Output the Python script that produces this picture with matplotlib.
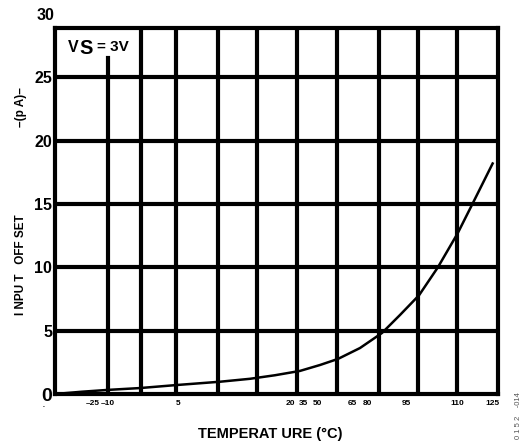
import matplotlib
matplotlib.use("Agg")
import matplotlib.pyplot as plt

plt.rcParams['font.family'] = ['Liberation Sans', 'DejaVu Sans']
plt.rcParams['font.weight'] = 'bold'

# curve (x in the chart's own linear scale, y in pA)
temp = [-40, -30, -20.6, -8.3, 5.4, 21.5, 32.6, 41.9, 51.2, 58.7, 65.4, 73.6,
        81.8, 88.5, 95.6, 102.6, 110, 115.7, 123]
offset = [0.0, 0.18, 0.32, 0.47, 0.71, 0.97, 1.2, 1.48, 1.82, 2.29, 2.77, 3.63,
          4.82, 6.24, 7.8, 10.0, 12.7, 15.1, 18.2]

# vertical grid positions and the (oddly placed) tick labels of the original
vgrid = [-20.3, -8, 5, 20.8, 35.4, 50, 65, 80.6, 95.2, 109.8]
xtick_pos = [-25.8, -20.3, 5.8, 47.5, 52.4, 57.6, 70.6, 76.2, 91, 110, 123]
xtick_lab = ['\u201325', '\u201310', '5', '20', '35', '50', '65', '80', '95', '110', '125']
ytick_pos = [0, 5, 10, 15, 20, 25]
ytick_lab = ['0', '5', '10', '15', '20', '25']

fig = plt.figure(figsize=(5.29, 4.44), dpi=100)
ax = fig.add_axes([55 / 529, 1 - 394 / 444, 443 / 529, 366 / 444])
ax.set_xlim(-40, 125)
ax.set_ylim(0, 28.9)

for s in ax.spines.values():
    s.set_linewidth(3)
    s.set_capstyle('projecting')

for y in ytick_pos[1:]:
    ax.axhline(y, color='black', lw=3, zorder=1)
for x in vgrid:
    top = 0.918 if x == vgrid[0] else 1
    ax.axvline(x, ymax=top, color='black', lw=3, zorder=1)

ax.plot(temp, offset, color='black', lw=1.8, zorder=3, solid_joinstyle='round')

ax.set_xticks(xtick_pos)
ax.set_xticklabels(xtick_lab, fontsize=6)
ax.set_yticks(ytick_pos)
ax.set_yticklabels(ytick_lab, fontsize=11.5)
ax.get_yticklabels()[0].set_fontsize(14)
ax.tick_params(length=0, pad=2)
ax.tick_params(axis='x', pad=4)

fig.text(46 / 529, 1 - 15 / 444, '30', fontsize=11.5, ha='center', va='center')
fig.text(44 / 529, 1 - 407 / 444, '-', fontsize=4, ha='center', va='center')

fig.text(68 / 529, 1 - 47 / 444, 'V', fontsize=11.5, ha='left', va='center')
fig.text(79 / 529, 1 - 49 / 444, 'S', fontsize=14.5, ha='left', va='center')
fig.text(97 / 529, 1 - 47 / 444, '= 3V', fontsize=11, ha='left', va='center')

fig.text(21 / 529, 1 - 265 / 444, 'I NPU T   OFF SET', fontsize=8.5, rotation=90,
         ha='center', va='center')
fig.text(21 / 529, 1 - 107 / 444, '\u2013(p A)\u2013', fontsize=8.5, rotation=90,
         ha='center', va='center')

fig.text(270 / 529, 1 - 434 / 444, 'TEMPERAT URE (\u00b0C)', fontsize=10.5,
         ha='center', va='center')
fig.text(518 / 529, 1 - 416 / 444, '0 1 5 2    -014', fontsize=5.5, rotation=90,
         ha='center', va='center', color='#555555', weight='normal')

fig.savefig('out.png', dpi=100)
